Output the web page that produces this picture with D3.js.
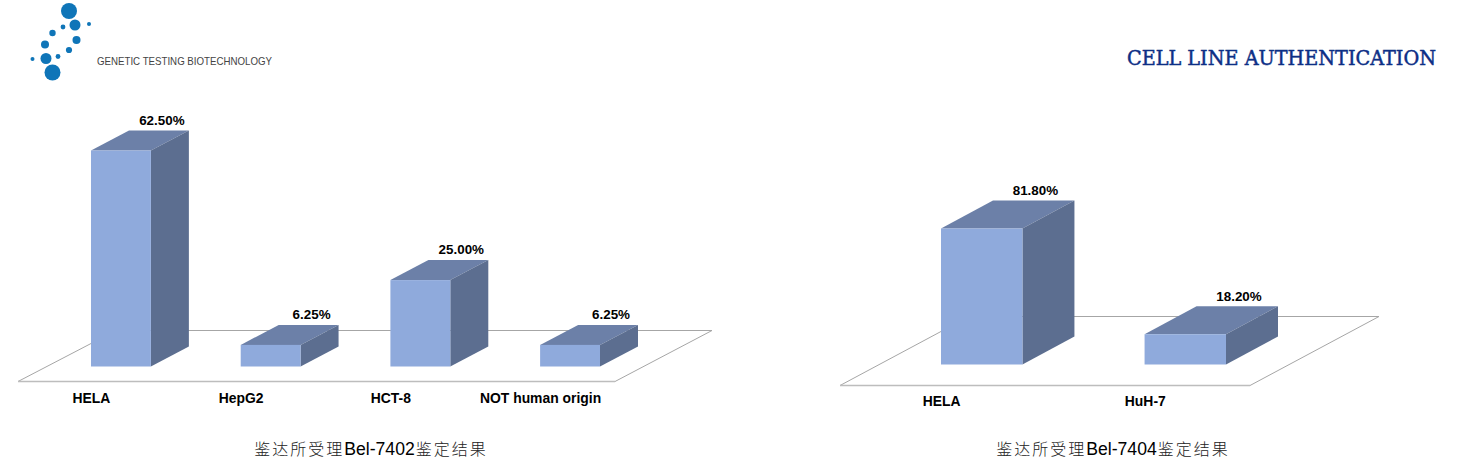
<!DOCTYPE html>
<html><head><meta charset="utf-8">
<script src="https://cdn.jsdelivr.net/npm/d3@7/dist/d3.min.js"></script>
<style>html,body{margin:0;padding:0;background:#fff}svg{display:block}
text{font-family:"Liberation Sans",Arial,sans-serif}</style></head>
<body><svg id="c" width="1474" height="464"></svg>
<script>
const cats7402 = ["HELA","HepG2","HCT-8","NOT human origin"];
const vals7402 = [62.5,6.25,25,6.25];
const labels7402 = ["62.50%","6.25%","25.00%","6.25%"];
const cats7404 = ["HELA","HuH-7"];
const vals7404 = [81.8,18.2];
const labels7404 = ["81.80%","18.20%"];
const caption7402 = "Bel-7402";
const caption7404 = "Bel-7404";
const captionPre = "鉴达所受理", captionPost = "鉴定结果";
const title = "CELL LINE AUTHENTICATION";
const company = "GENETIC TESTING BIOTECHNOLOGY";

const svg = d3.select("#c");
const FRONT="#8faadc", TOP="#6c80a8", SIDE="#5c6e90", FLOOR="#a6a6a6";

function chart(o){
  const g = svg.append("g");
  const x = d3.scaleBand().domain(o.cats).range(o.xr).paddingInner(o.pi).paddingOuter(0);
  const y = d3.scaleLinear().domain([0,o.vmax]).range([o.base,o.top]);
  const bw = x.bandwidth(), dx=o.dx, dy=o.dy;
  const f=o.floor;
  g.append("path").attr("d",`M${f[0]},${f[1]}H${f[2]}L${f[3]},${f[4]}H${f[5]}Z`)
    .attr("fill","#fff").attr("stroke",FLOOR).attr("stroke-width",1);
  g.append("path").attr("d",`M${f[0]},${f[1]}H${f[2]}`).attr("stroke","#bdbdbd").attr("stroke-width",1.5);
  o.cats.forEach((c,i)=>{
    const v=o.vals[i], X=x(c), Y=y(v), B=y(0);
    g.append("path").attr("d",`M${X},${Y}L${X+dx},${Y-dy}H${X+bw+dx}L${X+bw},${Y}Z`).attr("fill",TOP);
    g.append("path").attr("d",`M${X+bw},${Y}L${X+bw+dx},${Y-dy}V${B-dy}L${X+bw},${B}Z`).attr("fill",SIDE);
    g.append("rect").attr("x",X).attr("y",Y).attr("width",bw).attr("height",B-Y).attr("fill",FRONT);
    g.append("text").attr("x",X+bw+dx-o.lx).attr("y",Y-dy-o.ly).attr("text-anchor","middle")
      .attr("font-size",13.4).attr("font-weight",700).attr("fill","#000").text(o.labels[i]);
    g.append("text").attr("x",X+bw/2+o.cx).attr("y",o.catY).attr("text-anchor","middle")
      .attr("font-size",13.9).attr("font-weight",700).attr("fill","#000").text(c);
  });
  const t=g.append("text").attr("x",o.capX).attr("y",o.capY).attr("text-anchor","middle").attr("font-size",17.6).attr("fill","#000");
  const cjk='"Noto Sans CJK SC"';
  t.append("tspan").attr("font-family",cjk).attr("font-size",16).attr("font-weight",300).attr("fill","#222").attr("letter-spacing",2).text(captionPre);
  t.append("tspan").text(o.cap);
  t.append("tspan").attr("font-family",cjk).attr("font-size",16).attr("font-weight",300).attr("fill","#222").attr("letter-spacing",2).attr("dx",1).text(captionPost);
}
chart({cats:cats7402,vals:vals7402,labels:labels7402,xr:[91,600],pi:0.6,vmax:62.5,base:366.5,top:150.5,dx:38,dy:20,
  floor:[18,381.5,615,712,330.5,116],lx:27,ly:6,cx:-29.5,catY:403,cap:caption7402,capX:371,capY:455});
chart({cats:cats7404,vals:vals7404,labels:labels7404,xr:[941,1226],pi:0.6,vmax:81.8,base:364.5,top:228.5,dx:52,dy:28,
  floor:[840,385.5,1250,1379,316.5,969],lx:39,ly:5.5,cx:-40,catY:406,cap:caption7404,capX:1113,capY:455});

// logo
const logoX=[69,75,89,63,52.5,45,76.5,69,46,58,32.5,52.5];
const logoY=[11,25,24,27,33,44.5,40,50,58.5,56.5,59,72.5];
const logoR=[8,5.5,2,2.4,3.2,4,4,3.1,5.5,2.4,2,8];
svg.append("g").selectAll("circle").data(logoX).join("circle")
  .attr("cx",d=>d).attr("cy",(d,i)=>logoY[i]).attr("r",(d,i)=>logoR[i]).attr("fill","#0f75b8");
svg.append("text").attr("x",97).attr("y",64.5).attr("font-size",10.5).attr("fill","#444")
  .attr("textLength",175).attr("lengthAdjust","spacingAndGlyphs").text(company);
svg.append("text").attr("x",1127).attr("y",65).attr("font-size",20.5).attr("font-weight",400)
  .attr("fill","#0d2f86").attr("stroke","#0d2f86").attr("stroke-width",0.5).style("font-family","'DejaVu Serif',serif")
  .attr("textLength",309).attr("lengthAdjust","spacingAndGlyphs").text(title);
</script></body></html>
